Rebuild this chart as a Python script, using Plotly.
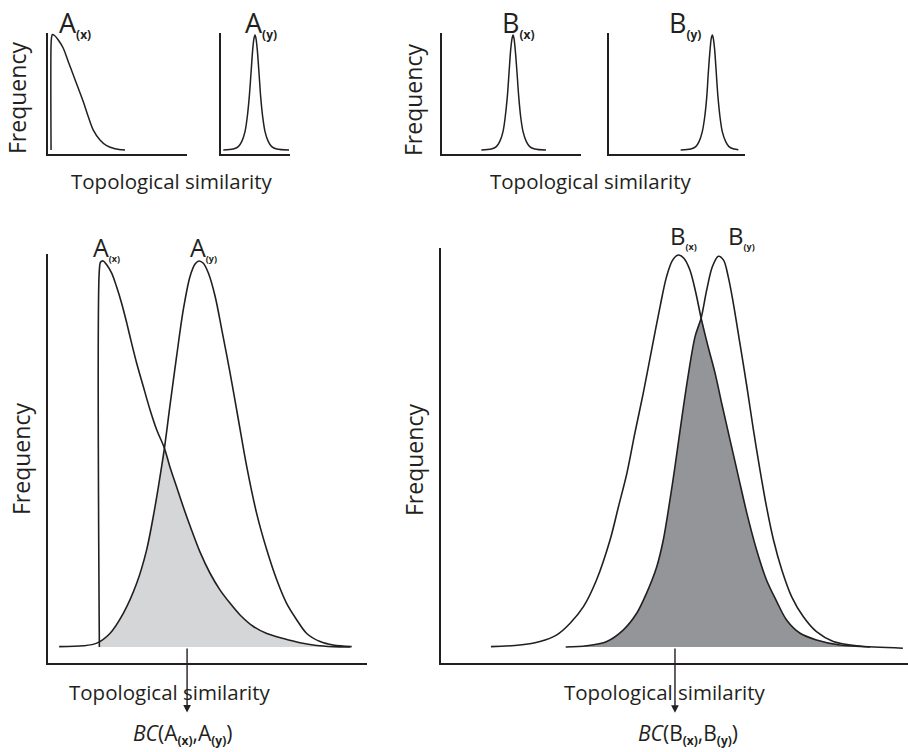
import plotly.graph_objects as go

# ---------------- data (x = similarity, y = frequency) -------------
# top small panels
top_Ax_x = [0.022, 0.022, 0.026, 0.032, 0.047, 0.074, 0.110, 0.146, 0.182, 0.218, 0.254, 0.290, 0.326, 0.374, 0.422, 0.482, 0.554]
top_Ax_y = [0.033, 0.900, 0.967, 0.988, 0.979, 0.942, 0.874, 0.763, 0.653, 0.543, 0.432, 0.308, 0.198, 0.116, 0.069, 0.044, 0.033]

top_Ay_x = [0.033, 0.178, 0.251, 0.300, 0.348, 0.381, 0.410, 0.435, 0.459, 0.478, 0.493, 0.507, 0.526, 0.551, 0.575, 0.604, 0.638, 0.686, 0.735, 0.807, 0.986]
top_Ay_y = [0.033, 0.041, 0.061, 0.102, 0.185, 0.308, 0.474, 0.667, 0.860, 0.956, 0.983, 0.956, 0.860, 0.667, 0.474, 0.308, 0.185, 0.102, 0.061, 0.041, 0.033]

top_Bx_x = [0.283, 0.355, 0.391, 0.415, 0.439, 0.455, 0.470, 0.482, 0.494, 0.504, 0.511, 0.518, 0.527, 0.540, 0.552, 0.566, 0.583, 0.607, 0.631, 0.667, 0.748]
top_Bx_y = [0.033, 0.041, 0.061, 0.102, 0.185, 0.308, 0.474, 0.667, 0.860, 0.956, 0.983, 0.956, 0.860, 0.667, 0.474, 0.308, 0.185, 0.102, 0.061, 0.041, 0.033]

top_By_x = [0.527, 0.601, 0.638, 0.662, 0.686, 0.704, 0.719, 0.730, 0.743, 0.752, 0.760, 0.767, 0.777, 0.789, 0.801, 0.816, 0.833, 0.858, 0.882, 0.919, 0.951]
top_By_y = [0.033, 0.041, 0.061, 0.102, 0.185, 0.308, 0.474, 0.667, 0.860, 0.956, 0.983, 0.956, 0.860, 0.667, 0.474, 0.308, 0.185, 0.102, 0.061, 0.041, 0.036]

# bottom-left panel (A)
bot_Ax_x = [0.161, 0.161, 0.165, 0.173, 0.184, 0.200, 0.215, 0.231, 0.247, 0.262, 0.278, 0.299, 0.320, 0.341, 0.365, 0.382,
            0.403, 0.424, 0.450, 0.476, 0.508, 0.539, 0.571, 0.602, 0.644, 0.686, 0.738, 0.790, 0.842, 0.894, 0.947]
bot_Ax_y = [0.0, 0.977, 0.997, 1.0, 0.990, 0.968, 0.933, 0.890, 0.839, 0.787, 0.735, 0.674, 0.614, 0.562, 0.515, 0.467,
            0.415, 0.363, 0.303, 0.247, 0.191, 0.148, 0.113, 0.083, 0.053, 0.035, 0.022, 0.011, 0.004, 0.001, 0.0]

bot_Ay_x = [0.035, 0.111, 0.153, 0.194, 0.236, 0.278, 0.309, 0.330, 0.346, 0.365, 0.382, 0.403, 0.424, 0.445, 0.461, 0.473,
            0.487, 0.503, 0.524, 0.545, 0.571, 0.597, 0.623, 0.654, 0.686, 0.717, 0.748, 0.780, 0.811, 0.853, 0.894, 0.952]
bot_Ay_y = [0.001, 0.003, 0.010, 0.035, 0.087, 0.165, 0.251, 0.338, 0.415, 0.515, 0.623, 0.752, 0.873, 0.959, 0.992, 1.0,
            0.994, 0.968, 0.908, 0.821, 0.709, 0.588, 0.467, 0.346, 0.251, 0.174, 0.113, 0.070, 0.035, 0.014, 0.005, 0.001]

overlap_A_x = [0.161, 0.194, 0.236, 0.278, 0.309, 0.330, 0.346, 0.365, 0.382, 0.403, 0.424, 0.450, 0.476, 0.508, 0.539,
               0.571, 0.602, 0.644, 0.686, 0.738, 0.790, 0.842, 0.894, 0.947]
overlap_A_y = [0.013, 0.035, 0.087, 0.165, 0.251, 0.338, 0.415, 0.515, 0.467, 0.415, 0.363, 0.303, 0.247, 0.191, 0.148,
               0.113, 0.083, 0.053, 0.035, 0.022, 0.011, 0.004, 0.001, 0.0]

# bottom-right panel (B)
bot_Bx_x = [0.107, 0.169, 0.212, 0.248, 0.276, 0.305, 0.333, 0.362, 0.380, 0.398, 0.415, 0.433, 0.451, 0.469, 0.483, 0.496,
            0.508, 0.520, 0.533, 0.546, 0.557, 0.572, 0.587, 0.601, 0.619, 0.637, 0.655, 0.676, 0.697, 0.719, 0.740,
            0.769, 0.804, 0.854, 0.919]
bot_Bx_y = [0.001, 0.005, 0.014, 0.031, 0.060, 0.103, 0.171, 0.273, 0.358, 0.443, 0.545, 0.647, 0.758, 0.868, 0.945, 0.987,
            1.0, 0.992, 0.962, 0.902, 0.839, 0.766, 0.698, 0.622, 0.528, 0.434, 0.341, 0.247, 0.171, 0.116, 0.069,
            0.035, 0.018, 0.005, 0.0]

bot_By_x = [0.267, 0.312, 0.355, 0.390, 0.419, 0.440, 0.462, 0.476, 0.488, 0.501, 0.515, 0.530, 0.544, 0.557, 0.569, 0.581,
            0.594, 0.605, 0.615, 0.626, 0.640, 0.655, 0.669, 0.683, 0.697, 0.712, 0.730, 0.751, 0.776, 0.804, 0.840,
            0.890, 0.989]
bot_By_y = [0.0, 0.003, 0.014, 0.043, 0.086, 0.137, 0.205, 0.273, 0.358, 0.460, 0.579, 0.698, 0.792, 0.839, 0.911, 0.970,
            0.997, 0.987, 0.945, 0.877, 0.775, 0.664, 0.554, 0.452, 0.358, 0.273, 0.196, 0.128, 0.077, 0.039, 0.014,
            0.003, -0.003]

overlap_B_x = [0.267, 0.312, 0.355, 0.390, 0.419, 0.440, 0.462, 0.476, 0.488, 0.501, 0.515, 0.530, 0.544, 0.557, 0.572,
               0.587, 0.601, 0.619, 0.637, 0.655, 0.676, 0.697, 0.719, 0.740, 0.769, 0.804, 0.854, 0.919]
overlap_B_y = [0.0, 0.003, 0.014, 0.043, 0.086, 0.137, 0.205, 0.273, 0.358, 0.460, 0.579, 0.698, 0.792, 0.839, 0.766,
               0.698, 0.622, 0.528, 0.434, 0.341, 0.247, 0.171, 0.116, 0.069, 0.035, 0.018, 0.005, 0.0]

# Bhattacharyya-coefficient marker positions (x) and arrow tip depth (y, below baseline)
bc_A_x = 0.436
bc_B_x = 0.501
bc_A_tip = -0.170
bc_B_tip = -0.168

# ---------------- styling -------------------------------------------------------------
INK = "#231f20"
LIGHT = "#d5d6d8"
DARK = "#939598"
FONT = "Open Sans"
W, H = 908, 752


def px(xp, yp):
    return xp / W, 1 - yp / H


fig = go.Figure()

# panel geometry: (x-domain px, y-domain px (bottom, top), y-range)
panels = {
    1: ((48, 187), (154, 33), (0, 1)),
    2: ((221, 290), (154, 33), (0, 1)),
    3: ((442, 581), (154, 33), (0, 1)),
    4: ((609, 745), (154, 33), (0, 1)),
    5: ((48, 367), (663, 254), (-0.0415, 1.018)),
    6: ((441, 908), (663, 248), (-0.0408, 1.018)),
}

layout_axes = {}
for i, ((x0, x1), (yb, yt), yr) in panels.items():
    xs = "" if i == 1 else str(i)
    common = dict(showline=True, linecolor=INK, linewidth=1.5, showticklabels=False, ticks="",
                  showgrid=False, zeroline=False, fixedrange=True)
    layout_axes["xaxis" + xs] = dict(domain=[x0 / W, x1 / W], range=[0, 1], anchor="y" + xs, **common)
    layout_axes["yaxis" + xs] = dict(domain=[1 - yb / H, 1 - yt / H], range=list(yr), anchor="x" + xs, **common)


def ax_ids(i):
    s = "" if i == 1 else str(i)
    return "x" + s, "y" + s


def curve(i, x, y, width=1.6, smoothing=0.9):
    xa, ya = ax_ids(i)
    fig.add_trace(go.Scatter(x=x, y=y, xaxis=xa, yaxis=ya, mode="lines", hoverinfo="skip",
                             line=dict(color=INK, width=width, shape="spline", smoothing=smoothing)))


def area(i, x, y, color):
    xa, ya = ax_ids(i)
    fig.add_trace(go.Scatter(x=x, y=y, xaxis=xa, yaxis=ya, mode="lines", fill="tozeroy",
                             fillcolor=color, hoverinfo="skip",
                             line=dict(color=color, width=0, shape="spline", smoothing=0.6)))


# fills first
area(5, overlap_A_x, overlap_A_y, LIGHT)
area(6, overlap_B_x, overlap_B_y, DARK)

# curves
curve(1, top_Ax_x, top_Ax_y, 1.5)
curve(2, top_Ay_x, top_Ay_y, 1.5)
curve(3, top_Bx_x, top_Bx_y, 1.5)
curve(4, top_By_x, top_By_y, 1.5)
curve(5, bot_Ax_x, bot_Ax_y)
curve(5, bot_Ay_x, bot_Ay_y)
curve(6, bot_Bx_x, bot_Bx_y)
curve(6, bot_By_x, bot_By_y)

annotations = []


def text(xp, yp, t, size=18, xanchor="center", yanchor="middle", angle=0):
    x, y = px(xp, yp)
    annotations.append(dict(x=x, y=y, xref="paper", yref="paper", text=t, showarrow=False,
                            xanchor=xanchor, yanchor=yanchor, textangle=angle,
                            font=dict(family=FONT, size=size, color=INK)))


def sub(s, size):
    return "<sub><span style='font-size:%dpx;font-weight:bold'>%s</span></sub>" % (size, s)


# distribution labels
text(57, 24, "A" + sub("(x)", 12), 27, xanchor="left")
text(243, 24, "A" + sub("(y)", 12), 27, xanchor="left")
text(500, 24, "B" + sub("(x)", 12), 27, xanchor="left")
text(667, 24, "B" + sub("(y)", 12), 27, xanchor="left")
text(91, 248, "A" + sub("(x)", 9), 25, xanchor="left")
text(188, 248, "A" + sub("(y)", 9), 25, xanchor="left")
text(668, 236, "B" + sub("(x)", 9), 24, xanchor="left")
text(726, 236, "B" + sub("(y)", 9), 24, xanchor="left")

# axis labels
for cx, cy in [(172, 181), (591, 181), (170, 692), (665, 692)]:
    text(cx, cy, "Topological similarity", 20.5)
for cx, cy in [(17, 98), (413, 100), (21, 459), (414, 460)]:
    text(cx, cy, "Frequency", 23, angle=-90)

# BC labels
text(182, 734, "<i>BC</i>(A" + sub("(x)", 12) + ",A" + sub("(y)", 12) + ")", 21)
text(688, 734, "<i>BC</i>(B" + sub("(x)", 12) + ",B" + sub("(y)", 12) + ")", 21)

# BC arrows (tail on baseline, head below the axis)
for i, bx, tip in [(5, bc_A_x, bc_A_tip), (6, bc_B_x, bc_B_tip)]:
    xa, ya = ax_ids(i)
    annotations.append(dict(x=bx, y=tip, xref=xa, yref=ya, ax=bx, ay=0, axref=xa, ayref=ya,
                            text="", showarrow=True, arrowhead=2, arrowsize=1.1, arrowwidth=1.4,
                            arrowcolor=INK, standoff=0, startstandoff=0))

fig.update_layout(width=W, height=H, margin=dict(l=0, r=0, t=0, b=0), paper_bgcolor="white",
                  plot_bgcolor="rgba(0,0,0,0)", showlegend=False, annotations=annotations,
                  font=dict(family=FONT, color=INK), **layout_axes)

fig.write_html("out.html")
